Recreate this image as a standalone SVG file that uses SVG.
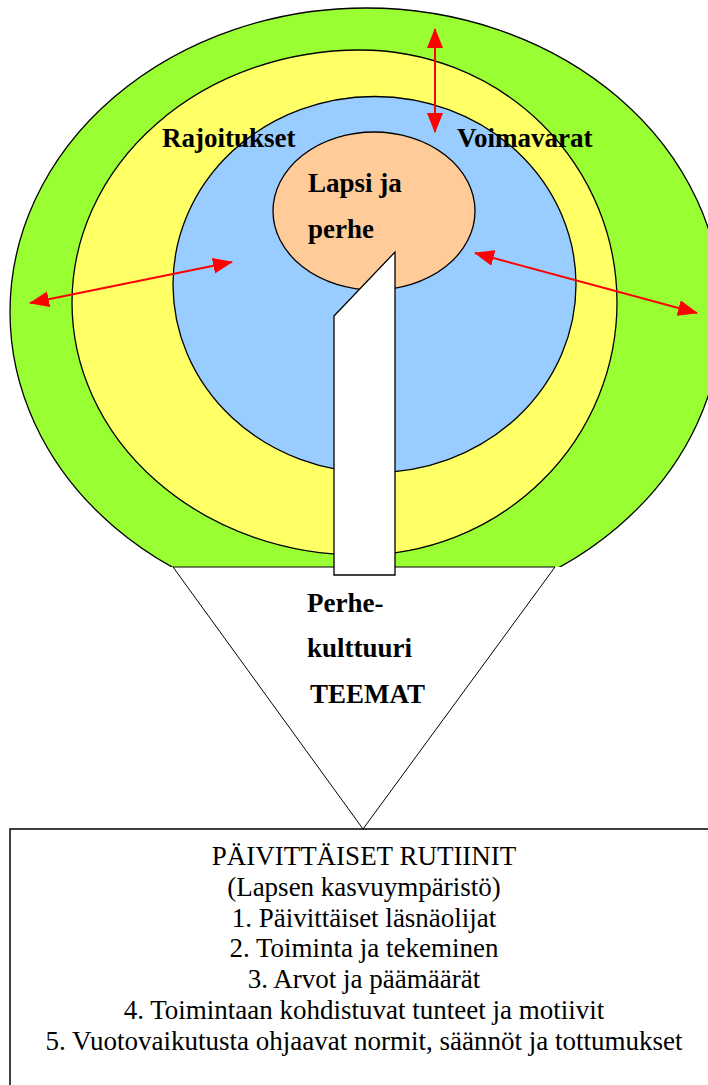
<svg xmlns="http://www.w3.org/2000/svg" width="708" height="1085" viewBox="0 0 708 1085" font-family="Liberation Serif, serif">
<style>
.ring{stroke:#000;stroke-width:1.3}
.lbl{font-weight:bold;font-size:27px;fill:#000}
.txt{font-size:27px;fill:#000;text-anchor:middle}
.arr{stroke:#f00;stroke-width:2;fill:none;marker-start:url(#ah);marker-end:url(#ah)}
</style>
<defs>
<marker id="ah" markerUnits="userSpaceOnUse" markerWidth="20" markerHeight="16" viewBox="0 0 20 16" refX="19" refY="8" orient="auto-start-reverse">
<path d="M0,0 L20,8 L0,16 Z" fill="#f00"/>
</marker>
<clipPath id="cut"><rect x="0" y="0" width="708" height="567"/></clipPath>
</defs>
<rect width="708" height="1085" fill="#fff"/>
<g id="environment">
<ellipse class="ring" cx="366" cy="312" rx="356" ry="304" fill="#99FF33" clip-path="url(#cut)"/>
</g>
<g id="constraints-resources">
<path class="ring" d="M360,50 A257,252.5 0 0 1 360,555 A288,252.5 0 0 1 360,50 Z" fill="#FFFF66"/>
</g>
<g id="daily-life">
<ellipse class="ring" cx="374.5" cy="284.5" rx="201.5" ry="188" fill="#99CCFF"/>
</g>
<g id="child-family">
<ellipse class="ring" cx="374" cy="211" rx="101" ry="79" fill="#FFCC99"/>
<text class="lbl" x="308" y="192">Lapsi ja</text>
<text class="lbl" x="308" y="238">perhe</text>
</g>
<g id="themes">
<path d="M173,567 L555,567 L363,829 Z" fill="#fff" stroke="#000" stroke-width="1"/>
<text class="lbl" x="307" y="612">Perhe-</text>
<text class="lbl" x="307" y="657">kulttuuri</text>
<text class="lbl" x="310" y="703">TEEMAT</text>
</g>
<g id="pole">
<path d="M334,316 L395,252 L395,575 L334,575 Z" fill="#fff" stroke="#000" stroke-width="1.3"/>
</g>
<g id="labels">
<text class="lbl" x="162" y="147">Rajoitukset</text>
<text class="lbl" x="457" y="147">Voimavarat</text>
</g>
<g id="connectors">
<line class="arr" x1="435" y1="29" x2="435" y2="132"/>
<line class="arr" x1="30" y1="303" x2="232" y2="262"/>
<line class="arr" x1="475" y1="253" x2="697" y2="313"/>
</g>
<g id="routines">
<rect x="10" y="829" width="720" height="280" fill="#fff" stroke="#000" stroke-width="1.5"/>
<text class="txt" x="364" y="865">PÄIVITTÄISET RUTIINIT</text>
<text class="txt" x="364" y="896">(Lapsen kasvuympäristö)</text>
<text class="txt" x="364" y="926.5">1. Päivittäiset läsnäolijat</text>
<text class="txt" x="364" y="957">2. Toiminta ja tekeminen</text>
<text class="txt" x="364" y="988">3. Arvot ja päämäärät</text>
<text class="txt" x="364" y="1019">4. Toimintaan kohdistuvat tunteet ja motiivit</text>
<text class="txt" x="364" y="1050">5. Vuotovaikutusta ohjaavat normit, säännöt ja tottumukset</text>
</g>
</svg>
